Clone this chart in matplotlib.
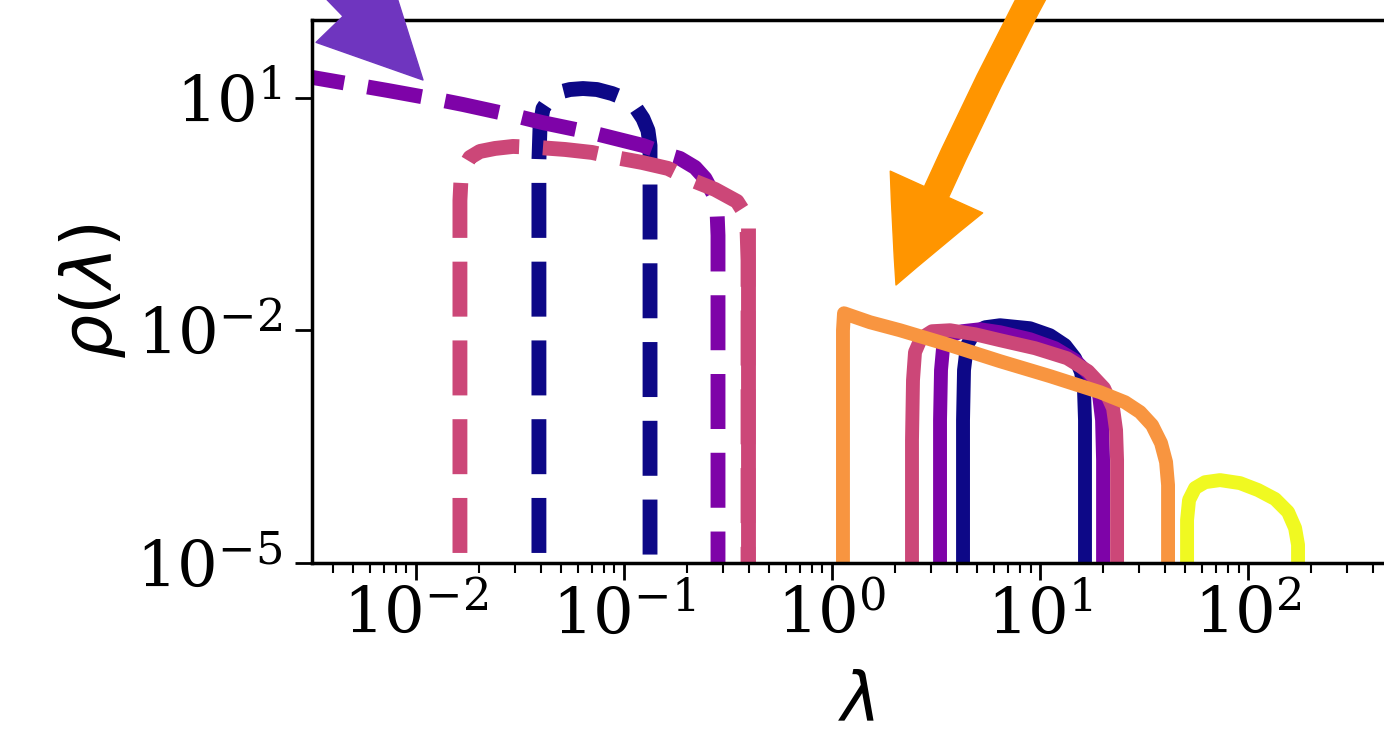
import matplotlib
matplotlib.use("Agg")
import matplotlib.pyplot as plt
import numpy as np
from matplotlib.patches import FancyArrowPatch, ArrowStyle
from matplotlib.transforms import IdentityTransform
from matplotlib.ticker import LogLocator, NullLocator

plt.rcParams['font.family'] = 'DejaVu Serif'
plt.rcParams['mathtext.fontset'] = 'dejavusans'

# colours (plasma)
navy = '#0d0887'
purple = '#7e03a8'
pink = '#cc4778'
orange = '#f89540'
yellow = '#f0f921'

# dashed spectra (small eigenvalues)
navy_d_lam = [0.0390, 0.0390, 0.0395, 0.0408, 0.0436, 0.0482, 0.0550, 0.0635, 0.0742, 0.0876, 0.101, 0.1129, 0.1234, 0.1304, 0.1334, 0.1334]
navy_d_rho = [1.3e-6, 1.545, 4.36, 7.21, 9.42, 11.6, 12.68, 13.06, 12.68, 11.26, 9.7, 7.66, 5.36, 3.76, 2.41, 1e-6]

purple_d_lam = [0.002478, 0.003197, 0.005686, 0.007335, 0.01348, 0.01682, 0.03094, 0.04034, 0.07254, 0.1234, 0.1664, 0.1858, 0.2195, 0.2451, 0.2679, 0.2800, 0.2831, 0.2831]
purple_d_rho = [20.4, 18.1, 13.86, 12.31, 9.15, 8.13, 5.69, 4.77, 3.44, 2.41, 1.79, 1.64, 1.255, 0.906, 0.581, 0.351, 0.167, 1e-6]

pink_d_lam = [0.01627, 0.01627, 0.01645, 0.01701, 0.01818, 0.02031, 0.02398, 0.02926, 0.03860, 0.05204, 0.07017, 0.09051, 0.1221, 0.1627, 0.2077, 0.2738, 0.3494, 0.3775, 0.3902, 0.3947, 0.3947]
pink_d_rho = [1.3e-6, 0.472, 0.854, 1.255, 1.689, 2.018, 2.205, 2.34, 2.27, 2.14, 1.958, 1.689, 1.456, 1.219, 0.880, 0.654, 0.458, 0.331, 0.206, 0.0797, 1e-6]
pink_edge_lam = [0.3947, 0.3947]
pink_edge_rho = [0.206, 1e-6]

# solid spectra (large eigenvalues)
navy_s_lam = [4.264, 4.264, 4.311, 4.457, 4.816, 5.440, 6.424, 8.953, 11.17, 13.19, 14.74, 15.74, 16.27, 16.45, 16.45]
navy_s_rho = [1e-6, 0.000694, 0.00306, 0.00641, 0.00915, 0.01093, 0.01160, 0.01061, 0.00862, 0.00641, 0.00436, 0.00288, 0.00169, 0.000694, 1e-6]

purple_s_lam = [3.306, 3.306, 3.342, 3.417, 3.693, 4.217, 5.147, 6.424, 8.953, 11.81, 14.74, 17.39, 19.22, 19.87, 20.09, 20.09]
purple_s_rho = [1e-6, 0.000694, 0.00306, 0.00587, 0.00837, 0.00971, 0.01030, 0.00943, 0.00766, 0.00587, 0.00411, 0.00263, 0.00146, 0.000694, 0.000212, 1e-6]

pink_s_lam = [2.424, 2.424, 2.451, 2.506, 2.679, 3.026, 3.693, 4.870, 6.424, 9.462, 13.49, 17.01, 20.31, 22.44, 23.20, 23.46, 23.46]
pink_s_rho = [1e-6, 0.000384, 0.00227, 0.00521, 0.00789, 0.00971, 0.0100, 0.00888, 0.00744, 0.00587, 0.00436, 0.00297, 0.00179, 0.000990, 0.000516, 0.000212, 1e-6]

orange_s_lam = [1.129, 1.129, 1.142, 1.523, 2.123, 3.693, 6.424, 11.17, 19.43, 25.63, 30.26, 34.56, 38.17, 40.35, 41.25, 41.25]
orange_s_rho = [1e-6, 0.0100, 0.01656, 0.01268, 0.0100, 0.00641, 0.00399, 0.00256, 0.00159, 0.00118, 0.000880, 0.000598, 0.000351, 0.000200, 0.000101, 1e-6]

yellow_s_lam = [50.91, 50.91, 52.04, 55.62, 62.13, 73.35, 91.53, 111.7, 134.9, 155.7, 168.3, 173.9, 173.9]
yellow_s_rho = [1e-6, 0.0000358, 0.0000648, 0.0000924, 0.000110, 0.000117, 0.000107, 0.0000871, 0.0000667, 0.0000454, 0.0000282, 0.0000171, 1e-6]

fig = plt.figure(figsize=(13.84, 7.36), dpi=100)
ax = fig.add_axes([0.2254, 0.2351, 0.7876, 0.7378])

lw_d = 10.7
lw_s = 10.0
ax.plot(navy_d_lam, navy_d_rho, '--', color=navy, lw=lw_d)
ax.plot(purple_d_lam, purple_d_rho, '--', color=purple, lw=lw_d)
ax.plot(pink_d_lam, pink_d_rho, '--', color=pink, lw=lw_d)
ax.plot(pink_edge_lam, pink_edge_rho, '-', color=pink, lw=lw_d, solid_capstyle='butt')

ax.plot(navy_s_lam, navy_s_rho, '-', color=navy, lw=lw_s)
ax.plot(purple_s_lam, purple_s_rho, '-', color=purple, lw=lw_s)
ax.plot(pink_s_lam, pink_s_rho, '-', color=pink, lw=lw_s)
ax.plot(orange_s_lam, orange_s_rho, '-', color=orange, lw=lw_s)
ax.plot(yellow_s_lam, yellow_s_rho, '-', color=yellow, lw=lw_s)

ax.set_xscale('log')
ax.set_yscale('log')
ax.set_xlim(10**-2.5, 10**2.74)
ax.set_ylim(1e-5, 1e2)
ax.set_yticks([1e-5, 1e-2, 1e1])
ax.yaxis.set_minor_locator(NullLocator())
ax.xaxis.set_major_locator(LogLocator(base=10, numticks=20))
ax.xaxis.set_minor_locator(LogLocator(base=10, subs=np.arange(2, 10), numticks=20))

ax.tick_params(which='major', length=12.5, width=2, labelsize=46)
ax.tick_params(which='minor', length=7, width=1.5)
ax.tick_params(axis='y', which='major', pad=9)
for s in ax.spines.values():
    s.set_linewidth(2.5)

ax.set_xlabel(r'$\lambda$', fontsize=48, labelpad=17)
ax.set_ylabel(r'$\rho(\lambda)$', fontsize=50, labelpad=5.5)

# arrows coming from outside the crop (pixel coords, y up)
H = 736
arr_purple = FancyArrowPatch((247, H + 102), (423, H - 80), transform=IdentityTransform(),
                             arrowstyle=ArrowStyle.Simple(head_length=73, head_width=73, tail_width=19),
                             mutation_scale=1, color='#6f35bf', shrinkA=0, shrinkB=0, clip_on=False)
arr_orange = FancyArrowPatch((1085, H + 100), (896, H - 285), transform=IdentityTransform(),
                             connectionstyle='arc3,rad=0.03',
                             arrowstyle=ArrowStyle.Simple(head_length=73, head_width=73, tail_width=19),
                             mutation_scale=1, color='#ff9500', shrinkA=0, shrinkB=0, clip_on=False)
fig.add_artist(arr_purple)
fig.add_artist(arr_orange)

fig.savefig('out.png', dpi=100)
